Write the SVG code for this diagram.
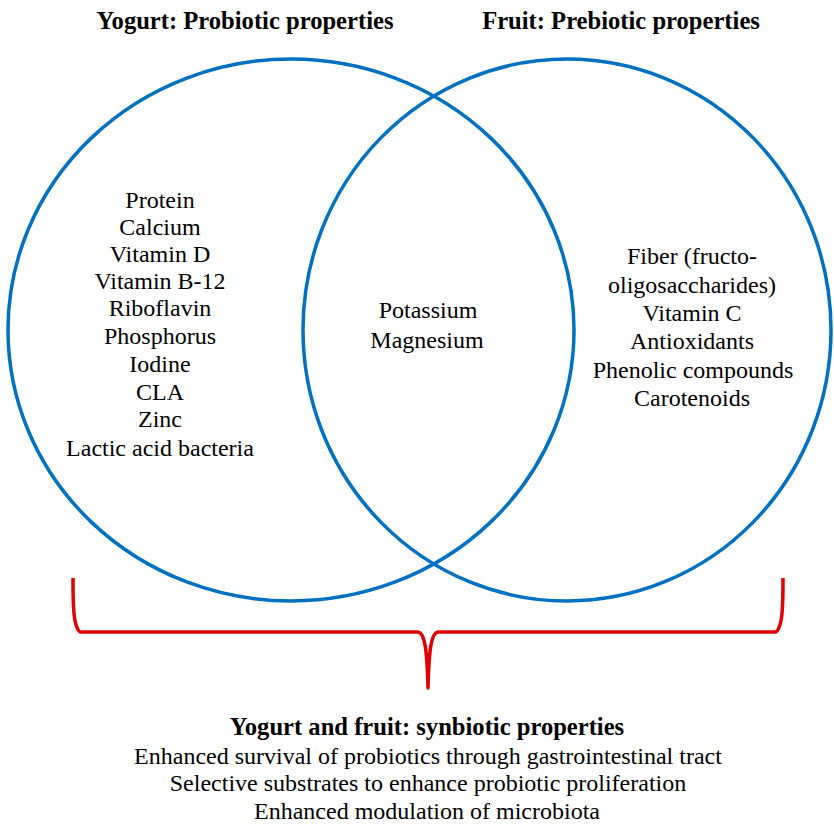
<svg xmlns="http://www.w3.org/2000/svg" width="834" height="824" viewBox="0 0 834 824">
<style>
.c{fill:none;stroke:#0070c0;stroke-width:3.5}
.t{font-family:"Liberation Serif","Times New Roman",serif;font-size:24px;fill:#000;text-anchor:middle}
.b{font-weight:bold;font-size:24.6px}
.br{fill:none;stroke:#e00000;stroke-width:3.5;stroke-linejoin:round}
</style>
<rect width="834" height="824" fill="#fff"/>
<g id="yogurt">
<ellipse class="c" cx="291" cy="330" rx="283" ry="271"/>
<text class="t b" x="245" y="29">Yogurt: Probiotic properties</text>
<text class="t" x="160" y="208">Protein</text>
<text class="t" x="160" y="235">Calcium</text>
<text class="t" x="160" y="262">Vitamin D</text>
<text class="t" x="160" y="289">Vitamin B-12</text>
<text class="t" x="160" y="316">Riboflavin</text>
<text class="t" x="160" y="344">Phosphorus</text>
<text class="t" x="160" y="372">Iodine</text>
<text class="t" x="160" y="400">CLA</text>
<text class="t" x="160" y="427">Zinc</text>
<text class="t" x="160" y="456">Lactic acid bacteria</text>
</g>
<g id="fruit">
<ellipse class="c" cx="567" cy="330" rx="264" ry="271"/>
<text class="t b" x="621" y="29">Fruit: Prebiotic properties</text>
<text class="t" x="692" y="264">Fiber (fructo-</text>
<text class="t" x="692" y="293">oligosaccharides)</text>
<text class="t" x="692" y="321">Vitamin C</text>
<text class="t" x="692" y="349">Antioxidants</text>
<text class="t" x="693" y="378">Phenolic compounds</text>
<text class="t" x="692" y="406">Carotenoids</text>
</g>
<g id="overlap">
<text class="t" x="428" y="318">Potassium</text>
<text class="t" x="427" y="348">Magnesium</text>
</g>
<g id="connectors">
<path class="br" d="M73,578 C73,612 74,627 80,632 L418,632 C425,633 427,650 428,688 C429,650 431,633 438,632 L776,632 C782,627 783,612 783,578"/>
</g>
<g id="synbiotic">
<text class="t b" x="427" y="735">Yogurt and fruit: synbiotic properties</text>
<text class="t" x="428" y="764">Enhanced survival of probiotics through gastrointestinal tract</text>
<text class="t" x="428" y="791">Selective substrates to enhance probiotic proliferation</text>
<text class="t" x="427" y="819">Enhanced modulation of microbiota</text>
</g>
</svg>
